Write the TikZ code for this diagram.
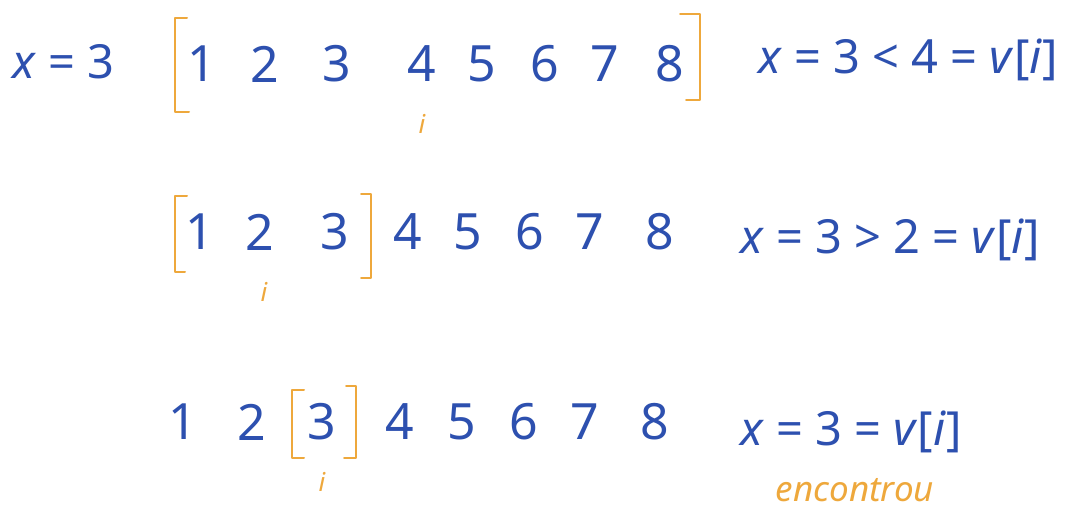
\documentclass[tikz,border=0pt]{standalone}
\usepackage{fontspec}
\setmainfont{Noto Sans}
\definecolor{ink}{RGB}{45,80,175}
\definecolor{hl}{RGB}{238,168,60}
\begin{document}
\begin{tikzpicture}[x=1pt,y=-1pt,
  dig/.style={text=ink,font=\fontsize{50}{56}\selectfont,inner sep=0pt},
  eq/.style={text=ink,font=\fontsize{47}{52}\selectfont,inner sep=0pt},
  idx/.style={text=hl,font=\itshape\fontsize{26}{30}\selectfont,inner sep=0pt},
  brk/.style={draw=hl,line width=2pt,line cap=round,line join=round}]
\useasboundingbox (0,0) rectangle (1084,512);
\fill[white] (0,0) rectangle (1084,512);
% Row 1
\node[eq,anchor=west] (x1) at (12,62) {\textit{x} = 3};
\foreach \n/\xx in {1/202,2/265,3/337,4/422,5/482,6/545,7/605,8/670}
  \node[dig] (a\n) at (\xx,64) {\n};
\coordinate (l1t) at (175,18); \coordinate (l1b) at (175,112);
\coordinate (r1t) at (700,14); \coordinate (r1b) at (700,100);
\draw[brk] ([xshift=12]l1t) -- (l1t) -- (l1b) -- ([xshift=14]l1b);
\draw[brk] ([xshift=-20]r1t) -- (r1t) -- (r1b) -- ([xshift=-14]r1b);
\node[idx] (i1) at (422,124) {i};
\node[eq,anchor=west] (c1) at (758,60) {\textit{x} = 3 < 4 = \textit{v}[\textit{i}]};
% Row 2
\foreach \n/\xx in {1/200,2/260,3/335,4/408,5/468,6/530,7/590,8/660}
  \node[dig] (b\n) at (\xx,232) {\n};
\coordinate (l2t) at (175,196); \coordinate (l2b) at (175,272);
\coordinate (r2t) at (371,194); \coordinate (r2b) at (371,278);
\draw[brk] ([xshift=12]l2t) -- (l2t) -- (l2b) -- ([xshift=10]l2b);
\draw[brk] ([xshift=-10]r2t) -- (r2t) -- (r2b) -- ([xshift=-10]r2b);
\node[idx] (i2) at (264,292) {i};
\node[eq,anchor=west] (c2) at (740,240) {\textit{x} = 3 > 2 = \textit{v}[\textit{i}]};
% Row 3
\foreach \n/\xx in {1/183,2/252,3/322,4/400,5/462,6/524,7/585,8/655}
  \node[dig] (d\n) at (\xx,422) {\n};
\coordinate (l3t) at (292,390); \coordinate (l3b) at (292,458);
\coordinate (r3t) at (356,386); \coordinate (r3b) at (356,458);
\draw[brk] ([xshift=12]l3t) -- (l3t) -- (l3b) -- ([xshift=12]l3b);
\draw[brk] ([xshift=-10]r3t) -- (r3t) -- (r3b) -- ([xshift=-12]r3b);
\node[idx] (i3) at (322,482) {i};
\node[eq,anchor=west] (c3) at (740,432) {\textit{x} = 3 = \textit{v}[\textit{i}]};
\node[idx,font=\itshape\fontsize{35}{40}\selectfont] (enc) at (855,490) {encontrou};
\end{tikzpicture}
\end{document}
